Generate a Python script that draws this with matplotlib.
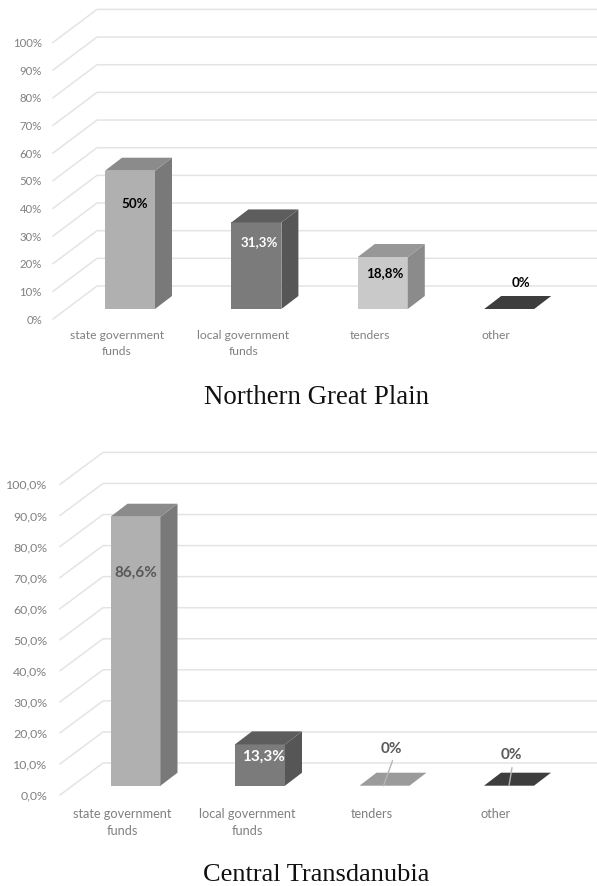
# Two 3D-look column charts on funding sources by region

import matplotlib
matplotlib.use("Agg")
import matplotlib.pyplot as plt
from matplotlib.patches import Polygon
import numpy as np

W, H = 597, 886

categorias = ["state government\nfunds", "local government\nfunds", "tenders", "other"]

valores_norte = [50, 31.3, 18.8, 0]
rotulos_norte = ["50%", "31,3%", "18,8%", "0%"]
ticks_norte = ["0%", "10%", "20%", "30%", "40%", "50%", "60%", "70%", "80%", "90%", "100%"]

valores_centro = [86.6, 13.3, 0, 0]
rotulos_centro = ["86,6%", "13,3%", "0%", "0%"]
ticks_centro = ["0,0%", "10,0%", "20,0%", "30,0%", "40,0%", "50,0%", "60,0%", "70,0%", "80,0%", "90,0%", "100,0%"]

# cores de cada coluna: frente, topo, lado
cores_norte = [("#b0b0b0", "#8b8b8b", "#797979"),
               ("#7b7b7b", "#5d5d5d", "#565656"),
               ("#c9c9c9", "#979797", "#8b8b8b"),
               ("#404040", "#3d3d3d", "#333333")]
cores_centro = [("#b0b0b0", "#8b8b8b", "#797979"),
                ("#7b7b7b", "#5d5d5d", "#565656"),
                ("#c9c9c9", "#9b9b9b", "#8b8b8b"),
                ("#404040", "#3d3d3d", "#333333")]

plt.rcParams["font.family"] = ["Lato", "DejaVu Sans"]
fig = plt.figure(figsize=(W / 100, H / 100), dpi=100, facecolor="white")


def painel(y_zero, y_cem, esq, cx0, passo, base_px, parede, valores, rotulos, ticks,
           cores, offsets, cor_rotulos, fs_rotulo, fs_ticks, fs_cat, pad_y, pad_x, guias):
    # eixo em categorias (x) e porcentagem (y), com a parede de fundo em projeção
    ax = fig.add_axes([esq / W, 1 - y_zero / H, (W - esq) / W, (y_zero - y_cem) / H])
    ax.set_xlim((esq - cx0) / passo, (W - cx0) / passo)
    ax.set_ylim(0, 100)
    px_y = (y_zero - y_cem) / 100

    pdx, pdy = parede[0] / passo, parede[1] / px_y
    bdx, bdy = 17 / passo, 13 / px_y
    largura = 50 / passo
    base = base_px / px_y
    x_ini = ax.get_xlim()[0]

    # linhas de grade: diagonal na lateral e horizontal no fundo
    for v in np.arange(0, 101, 10):
        ax.plot([x_ini, x_ini + pdx, ax.get_xlim()[1]], [v, v + pdy, v + pdy],
                color="#e4e4e4", lw=1.1, clip_on=False, zorder=1)

    for i, v in enumerate(valores):
        frente, topo, lado = cores[i]
        x0, x1 = i - largura / 2, i + largura / 2
        y1 = base + v
        if v > 0:
            ax.add_patch(Polygon([(x0, base), (x1, base), (x1, y1), (x0, y1)],
                                 fc=frente, ec="none", clip_on=False, zorder=3))
            ax.add_patch(Polygon([(x1, base), (x1 + bdx, base + bdy), (x1 + bdx, y1 + bdy), (x1, y1)],
                                 fc=lado, ec="none", clip_on=False, zorder=3))
        ax.add_patch(Polygon([(x0, y1), (x1, y1), (x1 + bdx, y1 + bdy), (x0 + bdx, y1 + bdy)],
                             fc=topo, ec="none", clip_on=False, zorder=3))
        ax.annotate(rotulos[i], xy=(i, y1), xytext=offsets[i], textcoords="offset pixels",
                    ha="center", va="center", fontsize=fs_rotulo, fontweight="bold",
                    color=cor_rotulos[i], zorder=5)

    # linhas guia dos rótulos de 0%
    for i, xa, xb, dy in guias:
        ax.annotate("", xy=(i + xa / passo, base), xytext=(xb, dy), textcoords="offset pixels",
                    arrowprops=dict(arrowstyle="-", color="#b5b5b5", lw=1, shrinkA=0, shrinkB=0),
                    zorder=4)

    for s in ax.spines.values():
        s.set_visible(False)
    ax.patch.set_alpha(0)
    ax.set_yticks(np.arange(0, 101, 10))
    ax.set_yticklabels(ticks, fontsize=fs_ticks, color="#808080")
    ax.tick_params(axis="y", length=0, pad=pad_y)
    # os nomes das categorias ficam um pouco à esquerda das colunas
    ax.set_xticks(np.arange(len(categorias)) - 13 / passo)
    ax.set_xticklabels(categorias, fontsize=fs_cat, color="#808080", linespacing=1.55)
    ax.tick_params(axis="x", length=0, pad=pad_x)
    return ax


painel(319, 42.4, 53, 130, 126.4, 10, (44, 33), valores_norte, rotulos_norte, ticks_norte,
       cores_norte, [(5, -33), (3, -20), (2, -16), (12, 26)],
       ["#000000", "#ffffff", "#000000", "#000000"], 9.6, 8.2, 8.7, 8, 7.7, [])

painel(795, 484.4, 60, 135.5, 124.5, 9.3, (43, 32), valores_centro, rotulos_centro, ticks_centro,
       cores_centro, [(0, -56), (3, -12), (7, 37), (2, 31)],
       ["#595959", "#ffffff", "#595959", "#595959"], 11, 8.9, 9.2, 9, 9,
       [(2, -1, 9, 25), (3, 0, 3, 18)])

# títulos das regiões
fig.text(316 / W, 1 - 397 / H, "Northern Great Plain", family="Liberation Serif",
         fontsize=19.4, ha="center", va="center", color="#111111")
fig.text(316 / W, 1 - 875 / H, "Central Transdanubia", family="Liberation Serif",
         fontsize=19.0, ha="center", va="center", color="#111111")

fig.savefig("out.png", dpi=100)
